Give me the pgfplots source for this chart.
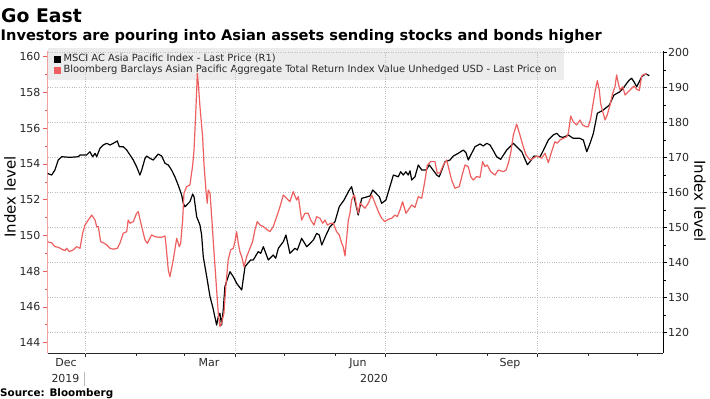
\documentclass[border=0pt]{standalone}
\usepackage{fontspec}
\setmainfont{DejaVu Sans}
\usepackage{pgfplots}
\usepackage{pgfplotstable}
\pgfplotsset{compat=1.18}
\definecolor{bred}{RGB}{238,96,96}
\definecolor{lgray}{RGB}{236,236,236}
\definecolor{gridc}{RGB}{190,190,190}
\definecolor{tickc}{RGB}{40,40,40}

% x: days from 1 Jan 2020; v: index level
\pgfplotstableread{
d v
-22.8 165.54
-20.2 165.05
-18.2 166.48
-16.2 169.34
-14.1 170.28
-9.1 170.11
-4.1 170.28
-3.0 170.77
1.0 170.77
3.0 171.71
4.7 170.28
6.1 171.25
7.1 170.28
9.1 172.69
11.1 173.63
13.2 174.12
15.2 173.63
17.2 174.12
19.6 174.78
20.8 173.15
23.2 173.15
25.3 172.20
27.3 170.77
29.3 169.34
31.3 167.43
33.3 165.05
34.4 166.48
36.4 169.82
37.4 170.48
39.4 169.82
41.4 169.34
44.4 171.05
46.5 170.48
48.5 168.41
50.5 167.92
52.5 166.48
54.5 164.56
56.5 162.19
58.6 159.34
59.6 156.97
60.6 155.99
63.6 157.43
65.3 159.62
66.1 158.85
67.7 153.14
69.7 150.77
70.7 147.92
71.7 141.71
73.8 135.99
75.8 130.27
77.4 127.42
79.8 122.19
80.8 124.57
81.8 125.54
82.8 122.19
83.8 126.48
84.8 133.14
86.8 136.00
87.9 137.43
89.9 136.00
91.9 134.12
95.0 132.20
97.0 138.88
100.4 140.78
102.0 140.78
105.0 143.15
106.5 142.69
108.1 144.58
111.1 140.78
114.1 142.20
115.6 141.27
117.2 144.11
120.2 146.00
121.8 147.92
124.2 142.69
127.3 144.11
128.7 143.63
131.3 146.97
134.4 144.56
138.4 146.48
140.4 148.39
142.0 147.91
143.5 145.05
146.1 147.91
148.5 150.29
151.5 151.71
154.1 156.00
157.0 157.91
160.2 160.77
161.6 161.72
164.7 155.53
165.6 153.62
167.7 158.39
172.7 159.05
174.4 160.77
178.4 158.85
179.8 156.97
182.4 157.91
184.8 161.72
186.9 165.05
189.9 164.56
191.3 165.99
192.9 165.05
194.5 165.99
195.9 165.05
197.0 166.27
198.0 163.62
200.0 164.56
202.0 167.92
204.1 166.48
206.7 166.48
208.7 167.92
213.2 165.05
214.7 164.56
218.2 168.85
221.2 169.34
223.2 170.48
226.2 171.25
229.3 172.20
230.9 171.43
232.3 169.34
233.8 170.77
236.4 173.15
239.4 173.92
241.4 173.35
243.5 174.12
245.5 173.63
247.5 172.00
249.5 170.28
251.9 169.53
255.6 172.20
259.6 174.12
261.6 173.15
264.7 171.71
268.1 168.00
269.7 168.85
272.1 170.48
275.8 170.28
277.4 171.71
280.8 175.06
283.8 176.49
285.9 176.97
287.9 176.00
289.9 175.83
292.9 176.49
295.9 175.54
300.0 175.54
302.0 175.06
304.1 171.71
306.1 174.12
308.1 176.97
309.7 180.77
310.5 182.69
314.1 183.63
317.8 185.05
319.2 186.49
320.6 187.91
324.2 188.86
326.2 189.83
328.3 191.26
329.9 192.20
331.3 192.69
332.7 191.71
334.4 190.28
335.9 191.71
337.4 193.15
338.8 193.64
340.0 193.92
342.0 193.43
}\msci

\pgfplotstableread{
d v
-23.2 149.65
-20.2 149.59
-18.2 149.37
-16.2 149.34
-14.1 149.23
-12.1 149.15
-11.1 149.28
-9.5 149.09
-7.1 149.19
-5.0 149.37
-3.0 149.28
-1.4 150.12
0.0 150.58
2.0 150.86
4.1 151.14
6.1 150.86
7.1 150.49
8.1 150.49
9.5 149.65
11.1 149.59
13.2 149.47
15.2 149.28
17.2 149.23
19.6 149.28
21.2 149.56
23.2 150.12
25.3 150.21
26.2 150.86
27.3 150.68
29.3 150.77
31.3 151.24
32.3 151.33
34.4 150.49
36.4 149.75
37.8 149.56
40.4 150.03
42.4 149.93
44.4 149.90
46.5 149.90
48.5 149.97
49.1 149.47
50.5 148.07
51.5 147.69
53.5 148.63
55.6 149.84
57.2 149.37
58.0 149.56
59.2 150.86
59.6 151.61
60.0 152.36
61.6 152.73
63.6 152.82
65.3 153.94
66.1 154.78
67.3 157.20
68.1 159.07
68.7 158.51
69.7 157.20
71.3 155.52
72.1 154.04
73.3 152.54
74.1 151.80
74.7 152.54
75.8 152.36
76.8 151.05
77.7 149.75
79.8 146.95
80.8 145.64
81.8 144.90
82.8 145.09
84.2 145.64
85.5 147.32
86.8 148.63
88.3 149.19
89.9 149.28
90.9 149.65
91.9 150.21
92.9 149.56
93.9 149.09
95.0 148.81
96.4 148.25
98.0 148.81
100.0 149.28
101.6 149.65
103.0 150.30
104.4 150.77
106.1 150.58
108.1 150.49
110.1 150.34
112.1 150.21
114.1 150.49
116.2 151.05
118.2 151.61
120.2 152.26
122.2 152.08
124.2 151.89
126.2 152.45
128.3 151.98
129.3 152.17
131.3 150.86
133.3 151.24
135.3 151.24
136.8 150.86
138.8 150.58
140.4 151.05
142.4 150.96
144.1 150.68
145.5 150.86
146.9 150.58
148.9 150.68
150.5 150.68
152.5 150.21
154.1 150.03
155.6 149.56
156.5 149.37
157.6 148.85
159.6 150.86
160.6 151.24
161.6 151.98
163.0 152.26
163.6 152.17
164.7 151.61
165.6 151.24
166.7 151.80
169.7 151.52
171.7 151.80
173.8 152.26
175.8 151.80
177.8 151.33
179.8 150.96
181.8 150.77
183.8 150.90
185.9 150.96
187.9 151.14
189.3 151.05
190.9 151.42
192.5 151.89
194.5 151.24
195.9 151.42
198.0 151.70
200.0 151.57
202.0 152.17
204.1 152.08
206.1 153.10
207.5 153.94
209.5 154.13
212.1 154.13
213.5 153.48
215.2 153.51
217.2 153.94
219.2 154.22
220.2 153.85
222.2 153.10
224.2 152.64
226.8 152.73
228.9 153.48
230.3 153.94
232.3 153.85
233.8 153.29
235.3 153.10
237.4 153.29
239.4 153.25
241.0 154.13
242.4 153.85
243.8 153.94
245.9 153.57
248.5 153.38
250.5 153.66
253.5 153.57
255.2 153.66
256.6 154.04
258.0 154.60
259.6 155.62
261.6 156.23
263.6 155.62
265.6 154.97
267.3 154.50
269.7 154.22
271.7 154.32
273.8 154.44
276.8 154.32
278.8 154.60
280.8 154.07
282.8 154.69
284.8 155.24
286.2 155.16
287.9 155.34
289.9 155.43
291.9 155.52
292.9 155.71
294.4 156.68
295.9 156.36
298.0 156.18
300.0 156.46
301.6 156.18
303.6 156.08
305.0 156.08
306.5 156.55
308.1 157.48
309.3 158.14
310.5 158.66
311.7 158.14
312.5 157.39
313.8 156.92
315.2 156.46
316.5 156.74
318.2 157.30
319.8 157.95
321.2 158.32
322.2 158.98
323.2 158.51
324.2 158.14
325.9 158.32
327.3 157.86
329.3 158.04
331.3 158.23
332.7 158.36
334.4 158.18
335.9 158.10
337.4 158.92
338.8 159.02
340.4 159.02
}\bbg

\pgfplotsset{
  common/.style={
    at={(47.5pt,-353pt)}, anchor=south west, scale only axis,
    width=615.5pt, height=302pt,
    xmin=-22.7, xmax=350.3,
    /pgf/number format/assume math mode=true,
    /pgf/number format/1000 sep={},
    ticklabel style={font=\fontsize{11}{12}\selectfont, text=tickc},
    tick align=outside,
    major tick length=4pt, minor tick length=2.5pt,
  }
}

\begin{document}
\begin{tikzpicture}[x=1pt,y=1pt]
\useasboundingbox (0,0) rectangle (710,-399);
\node[anchor=base west,inner sep=0] at (1,-22) {\fontsize{18.8}{22}\selectfont\bfseries Go East};
\node[anchor=base west,inner sep=0] at (0.5,-40) {\fontsize{14.6}{17}\selectfont\bfseries Investors are pouring into Asian assets sending stocks and bonds higher};

% left axis (Bloomberg Barclays), bottom axis, legend
\begin{axis}[common,
  ymin=143.42, ymax=160.32,
  axis y line*=left, axis x line*=bottom,
  y axis line style={draw=bred!60, line width=0.6pt},
  x axis line style={draw=tickc, line width=0.6pt},
  ytick={144,146,...,160}, minor y tick num=1,
  y tick style={bred, line width=0.6pt},
  x tick style={tickc, line width=0.6pt},
  yticklabel style={anchor=east, inner sep=0pt, xshift=-2.8pt},
  xtick={0,91,182,274}, xticklabels={},
  minor xtick={31,60,121,152,213,244,305,335},
  extra x ticks={-11.5,75.2,165.5,257.6},
  extra x tick labels={Dec,Mar,Jun,Sep},
  extra x tick style={major tick length=0pt, xticklabel style={anchor=north, inner sep=0pt, yshift=-5pt}},
  ylabel={Index level},
  ylabel style={at={(rel axis cs:-0.0609,0.517)}, anchor=center, font=\fontsize{15}{16}\selectfont},
  legend cell align=left,
  legend image code/.code={\fill[#1] (0pt,-3pt) rectangle (6pt,3pt);},
  legend style={at={(rel axis cs:0,1)}, anchor=north west, yshift=3pt,
    fill=lgray, draw=none, inner xsep=6pt, inner ysep=5pt,
    nodes={inner sep=1pt}, font=\fontsize{9.9}{11}\selectfont, text=tickc,
    /tikz/every odd column/.append style={column sep=2.5pt}},
]
\addlegendimage{black}
\addlegendentry{MSCI AC Asia Pacific Index - Last Price (R1)}
\addlegendimage{bred}
\addlegendentry{Bloomberg Barclays Asian Pacific Aggregate Total Return Index Value Unhedged USD - Last Price on}
\end{axis}

% right axis (MSCI), grid
\begin{axis}[common,
  ymin=114.2, ymax=200.49,
  axis y line*=right, axis x line*=bottom,
  x axis line style={draw=none},
  xtick={0,91,182,274}, xticklabels={}, xmajorticks=false,
  ytick={120,130,...,200}, minor y tick num=1,
  y axis line style={draw=black, line width=0.6pt},
  y tick style={black, line width=0.6pt},
  yticklabel style={anchor=west, inner sep=0pt, xshift=1pt},
  grid=major, major grid style={gridc, dotted, line width=0.5pt},
  ylabel={Index level},
  ylabel style={at={(rel axis cs:1.0601,0.503)}, anchor=center, rotate=180, font=\fontsize{15}{16}\selectfont},
]
\addplot[black, line width=1.2pt, line join=round] table[x=d, y=v] {\msci};
\end{axis}

% red series on the left scale
\begin{axis}[common, hide axis, ymin=143.42, ymax=160.32]
\addplot[bred, line width=1.2pt, line join=round] table[x=d, y=v] {\bbg};
\end{axis}

\node[anchor=base, inner sep=0] at (65.5,-382.7) {\fontsize{11}{12}\selectfont\color{tickc}2019};
\node[anchor=base, inner sep=0] at (374,-382.7) {\fontsize{11}{12}\selectfont\color{tickc}2020};
\draw[gray!55, line width=0.6pt] (84.5,-372) -- (84.5,-386);
\node[anchor=base west, inner sep=0] at (0,-396.5) {\fontsize{10.4}{12}\selectfont\bfseries Source: Bloomberg};
\end{tikzpicture}
\end{document}
